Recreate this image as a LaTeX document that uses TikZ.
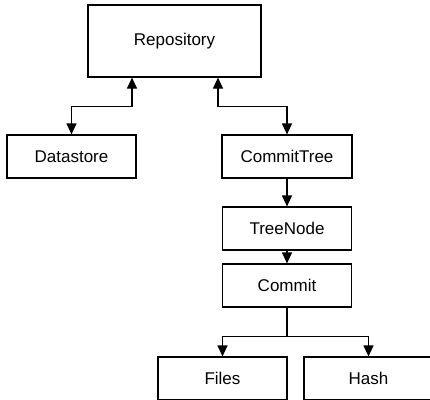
\documentclass[tikz,border=0pt]{standalone}
\usepackage{fontspec}
\setmainfont{Liberation Sans}
\usetikzlibrary{arrows.meta}
\begin{document}
\begin{tikzpicture}[x=1pt,y=-1pt,
  box/.style={draw=black,line width=1.2pt,fill=white,inner sep=0pt,
    font=\fontsize{17}{20}\selectfont},
  conn/.style={draw=black,line width=1.2pt,-{Triangle[length=11pt,width=10pt]}},
  biconn/.style={draw=black,line width=1.2pt,{Triangle[length=11pt,width=10pt]}-{Triangle[length=11pt,width=10pt]}}]
\useasboundingbox (0,0) rectangle (430,399);
\fill[white] (0,0) rectangle (430,399);
\clip (0,0) rectangle (430,399);
\node[box,minimum width=173pt,minimum height=72pt] (repo) at (174.5,41) {Repository};
\node[box,minimum width=129pt,minimum height=43pt] (ds) at (71.5,156.5) {Datastore};
\node[box,minimum width=130pt,minimum height=43pt] (ct) at (287,156.5) {CommitTree};
\node[box,minimum width=129pt,minimum height=43pt] (tn) at (287,228.5) {TreeNode};
\node[box,minimum width=129pt,minimum height=43pt] (cm) at (287,285.5) {Commit};
\node[box,minimum width=129pt,minimum height=43pt] (files) at (222.5,378.5) {Files};
\node[box,minimum width=129pt,minimum height=43pt] (hash) at (368.5,378.5) {Hash};
\coordinate (rl) at ([xshift=-42.5pt]repo.south);
\coordinate (rr) at ([xshift=43.5pt]repo.south);
\coordinate (br) at ([yshift=-28.5pt]cm.south);
\draw[biconn] (rl) -- ++(0,29) -| (ds.north);
\draw[biconn] (rr) -- ++(0,29) -| (ct.north);
\draw[conn] (ct.south) -- (tn.north);
\draw[conn] (tn.south) -- (cm.north);
\draw[line width=1.2pt] (cm.south) -- (br);
\draw[conn] (br) -| (files.north);
\draw[conn] (br) -| (hash.north);
\end{tikzpicture}
\end{document}
